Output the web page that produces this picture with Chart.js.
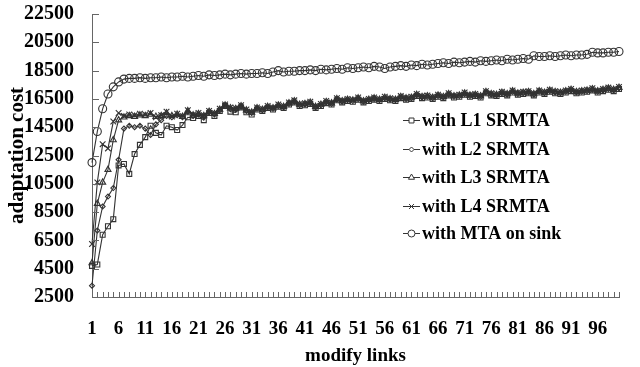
<!DOCTYPE html>
<html>
<head>
<meta charset="utf-8">
<script src="https://cdn.jsdelivr.net/npm/chart.js@4/dist/chart.umd.min.js"></script>
<style>
  html, body { margin: 0; padding: 0; background: #fff; }
  #wrap { width: 640px; height: 367px; }
</style>
</head>
<body>
<div id="wrap"><canvas id="costChart"></canvas></div>
<script>
const categories = Array.from({ length: 100 }, (_, i) => i + 1);
const yTicks = [2500, 4500, 6500, 8500, 10500, 12500, 14500, 16500, 18500, 20500, 22500];

const seriesNames = ['with L1 SRMTA', 'with L2 SRMTA', 'with L3 SRMTA', 'with L4 SRMTA', 'with MTA on sink'];

const l1Values = [
    4700, 4800, 6900, 7500, 8000, 11800, 11900, 11200, 12600, 13250,
    13800, 14600, 14100, 13950, 14600, 14500, 14300, 14650, 15200, 15150,
    15300, 15000, 15500, 15300, 15650, 16000, 15600, 15550, 15900, 15550,
    15400, 15750, 15650, 15850, 15750, 15950, 15850, 16100, 16250, 16000,
    16050, 16150, 15850, 16000, 16200, 16100, 16400, 16250, 16350, 16300,
    16450, 16250, 16350, 16450, 16350, 16500, 16400, 16350, 16550, 16450,
    16500, 16700, 16550, 16600, 16500, 16650, 16550, 16750, 16600, 16650,
    16800, 16650, 16700, 16600, 16900, 16750, 16700, 16850, 16750, 16950,
    16800, 16850, 16900, 16750, 16950, 16850, 17000, 16900, 16850, 16950,
    17050, 16900, 16950, 17000, 17100, 16950, 17050, 17150, 17050, 17200
];
const l2Values = [
    3300, 7200, 8900, 9600, 10200, 12200, 14400, 14600, 14500, 14600,
    14400, 13950, 14700, 15000, 15300, 15200, 15350, 15200, 15600, 15300,
    15400, 15250, 15550, 15400, 15700, 16000, 15800, 15750, 15950, 15650,
    15500, 15800, 15700, 15900, 15800, 16000, 15900, 16150, 16300, 16050,
    16100, 16200, 15900, 16050, 16250, 16150, 16450, 16300, 16400, 16350,
    16500, 16300, 16400, 16500, 16400, 16550, 16450, 16400, 16600, 16500,
    16550, 16750, 16600, 16650, 16550, 16700, 16600, 16800, 16650, 16700,
    16850, 16700, 16750, 16650, 16950, 16800, 16750, 16900, 16800, 17000,
    16850, 16900, 16950, 16800, 17000, 16900, 17050, 16950, 16900, 17000,
    17100, 16950, 17000, 17050, 17150, 17000, 17100, 17200, 17100, 17250
];
const l3Values = [
    4900, 9100, 10600, 11500, 13600, 15000, 15200, 15300, 15250, 15350,
    15300, 15400, 15250, 15300, 15500, 15300, 15400, 15250, 15650, 15350,
    15450, 15300, 15600, 15450, 15750, 16050, 15850, 15800, 16000, 15700,
    15550, 15850, 15750, 15950, 15850, 16050, 15950, 16200, 16350, 16100,
    16150, 16250, 15950, 16100, 16300, 16200, 16500, 16350, 16450, 16400,
    16550, 16350, 16450, 16550, 16450, 16600, 16500, 16450, 16650, 16550,
    16600, 16800, 16650, 16700, 16600, 16750, 16650, 16850, 16700, 16750,
    16900, 16750, 16800, 16700, 17000, 16850, 16800, 16950, 16850, 17050,
    16900, 16950, 17000, 16850, 17050, 16950, 17100, 17000, 16950, 17050,
    17150, 17000, 17050, 17100, 17200, 17050, 17150, 17250, 17150, 17300
];
const l4Values = [
    6250, 10600, 13300, 13000, 14900, 15500, 15300, 15400, 15350, 15450,
    15400, 15500, 15200, 15350, 15600, 15250, 15450, 15300, 15700, 15400,
    15500, 15350, 15650, 15500, 15800, 16100, 15900, 15850, 16050, 15750,
    15600, 15900, 15800, 16000, 15900, 16100, 16000, 16250, 16400, 16150,
    16200, 16300, 16000, 16150, 16350, 16250, 16550, 16400, 16500, 16450,
    16600, 16400, 16500, 16600, 16500, 16650, 16550, 16500, 16700, 16600,
    16650, 16850, 16700, 16750, 16650, 16800, 16700, 16900, 16750, 16800,
    16950, 16800, 16850, 16750, 17050, 16900, 16850, 17000, 16900, 17100,
    16950, 17000, 17050, 16900, 17100, 17000, 17150, 17050, 17000, 17100,
    17200, 17050, 17100, 17150, 17250, 17100, 17200, 17300, 17200, 17350
];
const mtaValues = [
    12000, 14200, 15800, 16850, 17350, 17700, 17900, 17950, 17950, 18000,
    17950, 18000, 18000, 18050, 18000, 18050, 18050, 18100, 18050, 18100,
    18150, 18100, 18200, 18150, 18200, 18250, 18200, 18250, 18300, 18250,
    18300, 18300, 18350, 18300, 18400, 18500, 18400, 18450, 18450, 18500,
    18500, 18550, 18500, 18600, 18550, 18600, 18650, 18600, 18700, 18650,
    18700, 18750, 18700, 18800, 18750, 18650, 18750, 18800, 18850, 18800,
    18900, 18850, 18950, 18900, 18950, 19000, 19050, 19000, 19100, 19050,
    19100, 19150, 19100, 19200, 19150, 19200, 19250, 19200, 19300, 19250,
    19300, 19350, 19300, 19550, 19500, 19500, 19550, 19500, 19550, 19600,
    19550, 19600, 19600, 19650, 19800, 19750, 19750, 19800, 19800, 19850
];

const serif = '"Liberation Serif", "Times New Roman", serif';
const lineColor = '#333';

function makeSet(label, data, style, radius) {
    return {
        label: label,
        data: data,
        borderColor: lineColor,
        borderWidth: 1.1,
        pointStyle: style,
        pointRadius: radius,
        pointBorderColor: lineColor,
        pointBackgroundColor: 'rgba(0,0,0,0)',
        pointBorderWidth: 1.1,
        tension: 0
    };
}

// ticks pointing into the plot, and the legend inside it
const innerTicks = {
    id: 'innerTicks',
    afterDraw(chart) {
        const c = chart.ctx;
        const x = chart.scales.x, y = chart.scales.y;
        c.save();
        c.strokeStyle = '#666';
        c.lineWidth = 1;
        c.beginPath();
        yTicks.forEach(v => {
            const py = Math.round(y.getPixelForValue(v)) + 0.5;
            c.moveTo(x.left, py);
            c.lineTo(x.left + 7, py);
        });
        categories.forEach((_, i) => {
            const px = Math.round(x.getPixelForValue(i)) + 0.5;
            c.moveTo(px, y.bottom);
            c.lineTo(px, y.bottom - 5);
        });
        c.stroke();

        const rows = [120, 149, 177, 206, 233];
        chart.data.datasets.forEach((ds, i) => {
            const ly = rows[i];
            c.strokeStyle = lineColor;
            c.fillStyle = '#fff';
            c.beginPath();
            c.moveTo(403, ly + 0.5);
            c.lineTo(420, ly + 0.5);
            c.stroke();
            Chart.helpers.drawPoint(c, {
                pointStyle: ds.pointStyle,
                radius: Math.min(ds.pointRadius, 3.5),
                borderWidth: 1
            }, 411.5, ly + 0.5);
            c.fillStyle = '#000';
            c.font = 'bold 18px ' + serif;
            c.textBaseline = 'middle';
            c.textAlign = 'left';
            c.fillText(ds.label, 422, ly + 1);
        });
        c.restore();
    }
};

const ctx = document.getElementById('costChart').getContext('2d');
const chart = new Chart(ctx, {
    type: 'line',
    data: {
        labels: categories,
        datasets: [
            makeSet(seriesNames[0], l1Values, 'rect', 3.5),
            makeSet(seriesNames[1], l2Values, 'rectRot', 2.5),
            makeSet(seriesNames[2], l3Values, 'triangle', 3.5),
            makeSet(seriesNames[3], l4Values, 'crossRot', 4),
            makeSet(seriesNames[4], mtaValues, 'circle', 4)
        ]
    },
    options: {
        responsive: true,
        maintainAspectRatio: false,
        animation: false,
        layout: {
            padding: { top: 14, right: 9, left: 0, bottom: 0 }
        },
        plugins: {
            legend: { display: false },
            tooltip: { enabled: false }
        },
        scales: {
            x: {
                type: 'category',
                offset: false,
                grid: { display: false, drawTicks: false },
                border: { display: true, color: '#666' },
                ticks: {
                    autoSkip: false,
                    maxRotation: 0,
                    padding: 21,
                    color: '#000',
                    font: { family: serif, size: 19, weight: 'bold' },
                    callback: function(value, index) {
                        return index % 5 === 0 ? categories[index] : '';
                    }
                },
                title: {
                    display: true,
                    text: 'modify links',
                    color: '#000',
                    font: { family: serif, size: 19, weight: 'bold' },
                    padding: { top: 1, bottom: 0 }
                },
                afterFit: function(scale) { scale.height = 70; }
            },
            y: {
                min: 2500,
                max: 22500,
                grid: { display: false, drawTicks: false },
                border: { display: true, color: '#666' },
                ticks: {
                    stepSize: 2000,
                    autoSkip: false,
                    padding: 18,
                    color: '#000',
                    font: { family: serif, size: 20, weight: 'bold' },
                    callback: function(value) { return String(value); }
                },
                title: {
                    display: true,
                    text: 'adaptation cost',
                    color: '#000',
                    font: { family: serif, size: 21, weight: 'bold' },
                    padding: { top: 5, bottom: 0 }
                },
                afterFit: function(scale) {
                    scale.width = 92;
                    scale.paddingTop = 0;
                    scale.paddingBottom = 0;
                }
            }
        }
    },
    plugins: [innerTicks]
});
</script>
</body>
</html>
